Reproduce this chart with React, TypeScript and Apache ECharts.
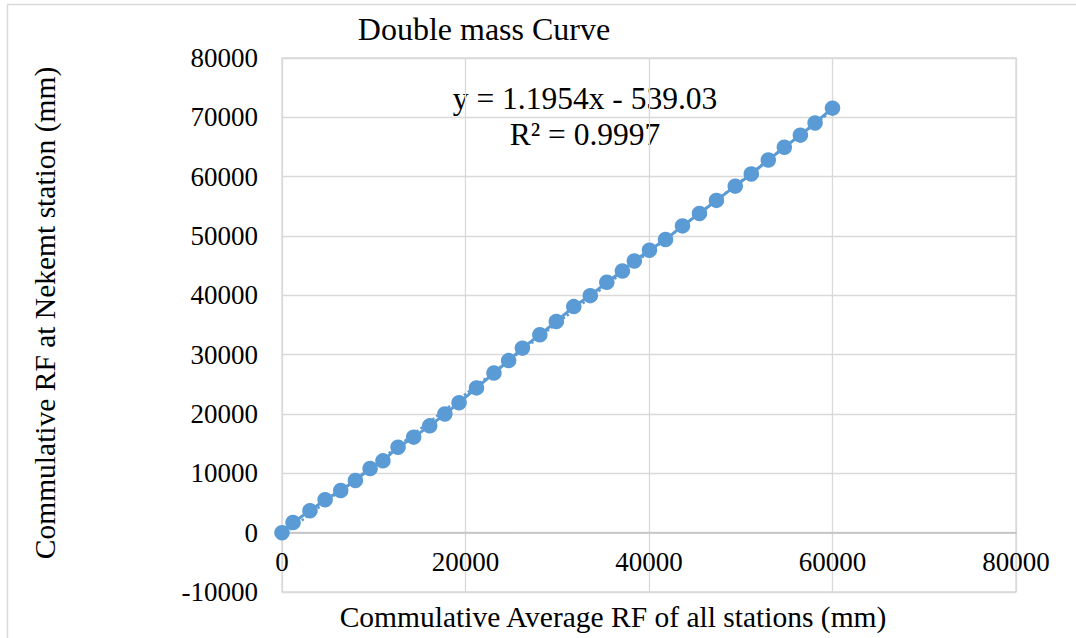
import React, { useEffect, useRef } from "react";
import * as echarts from "echarts";

// Cumulative average rainfall of all stations (mm)
const cumAvgAll: number[] = [
  0, 1200, 3050, 4700, 6400, 8000, 9600, 11000, 12650, 14350, 16100, 17750,
  19300, 21200, 23100, 24700, 26200, 28100, 29900, 31800, 33600, 35400, 37100,
  38400, 40050, 41800, 43650, 45500, 47350, 49400, 51150, 53000, 54750, 56500,
  58100, 60000,
];

// Cumulative rainfall at Nekemt station (mm)
const cumNekemt: number[] = [
  0, 1700, 3700, 5550, 7100, 8800, 10800, 12100, 14400, 16100, 18000, 20000,
  21900, 24400, 26900, 29000, 31100, 33350, 35600, 38100, 39950, 42200, 44100,
  45800, 47600, 49400, 51700, 53800, 56000, 58400, 60450, 62800, 64950, 67000,
  69050, 71550,
];

// Linear trend as reported on the chart
const trendSlope = 1.1954;
const trendIntercept = -539.03;
const trendLabel = "y = 1.1954x - 539.03";
const r2Label = "R² = 0.9997";

const titleText = "Double mass Curve";
const xTitle = "Commulative Average RF of all stations (mm)";
const yTitle = "Commulative RF at Nekemt station (mm)";

const Y_MIN = -10000;
const Y_MAX = 80000;

const FONT = "'Liberation Serif', 'Times New Roman', serif";
const BLUE = "#5B9BD5";

// plot rectangle
const GRID_LEFT = 282;
const GRID_TOP = 58;
const GRID_W = 734;
const GRID_H = 534;

export default function App() {
  const ref = useRef<HTMLDivElement>(null);

  useEffect(() => {
    if (!ref.current) return;
    const chart = echarts.init(ref.current, undefined, { renderer: "svg" });

    const points = cumAvgAll.map((x, i) => [x, cumNekemt[i]]);
    const xStart = cumAvgAll[0];
    const xEnd = cumAvgAll[cumAvgAll.length - 1];
    const trend = [
      [xStart, trendSlope * xStart + trendIntercept],
      [xEnd, trendSlope * xEnd + trendIntercept],
    ];

    // lift the horizontal axis from the bottom edge up to the y = 0 line
    const zeroOffset = -(GRID_H * (0 - Y_MIN)) / (Y_MAX - Y_MIN);

    chart.setOption({
      animation: false,
      backgroundColor: "#ffffff",
      textStyle: { fontFamily: FONT },
      grid: {
        left: GRID_LEFT,
        top: GRID_TOP,
        width: GRID_W,
        height: GRID_H,
        containLabel: false,
        outerBoundsMode: "none",
      },
      xAxis: {
        type: "value",
        min: 0,
        max: 80000,
        interval: 20000,
        offset: zeroOffset,
        axisLine: { onZero: false, lineStyle: { color: "#bfbfbf", width: 1.5 } },
        axisTick: { show: false },
        axisLabel: {
          fontFamily: FONT,
          fontSize: 27,
          color: "#000",
          margin: 16,
          formatter: (v: number) => String(v),
        },
        splitLine: { show: true, lineStyle: { color: "#d9d9d9", width: 1.3 } },
      },
      yAxis: {
        type: "value",
        min: Y_MIN,
        max: Y_MAX,
        interval: 10000,
        axisLine: { show: false },
        axisTick: { show: false },
        axisLabel: {
          fontFamily: FONT,
          fontSize: 27,
          color: "#000",
          margin: 24,
          formatter: (v: number) => String(v),
        },
        splitLine: { show: true, lineStyle: { color: "#d9d9d9", width: 1.3 } },
      },
      graphic: [
        {
          type: "rect",
          shape: { x: 7.5, y: 4.5, width: 1200, height: 800 },
          style: { fill: "none", stroke: "#d9d9d9", lineWidth: 1.5 },
          silent: true,
          z: -1,
        },
        {
          type: "rect",
          shape: { x: GRID_LEFT, y: GRID_TOP, width: GRID_W, height: GRID_H },
          style: { fill: "none", stroke: "#d9d9d9", lineWidth: 1.3 },
          silent: true,
        },
        {
          type: "text",
          x: 484,
          y: 29,
          style: {
            text: titleText,
            font: `32px ${FONT}`,
            fill: "#000",
            align: "center",
            verticalAlign: "middle",
          },
        },
        {
          type: "text",
          x: 613,
          y: 617,
          style: {
            text: xTitle,
            font: `29.5px ${FONT}`,
            fill: "#000",
            align: "center",
            verticalAlign: "middle",
          },
        },
        {
          type: "text",
          x: 45,
          y: 313,
          rotation: Math.PI / 2,
          style: {
            text: yTitle,
            font: `29.5px ${FONT}`,
            fill: "#000",
            align: "center",
            verticalAlign: "middle",
          },
        },
        {
          type: "text",
          x: 585,
          y: 98,
          style: {
            text: trendLabel,
            font: `31.5px ${FONT}`,
            fill: "#000",
            align: "center",
            verticalAlign: "middle",
          },
        },
        {
          type: "text",
          x: 585,
          y: 134,
          style: {
            text: r2Label,
            font: `31.5px ${FONT}`,
            fill: "#000",
            align: "center",
            verticalAlign: "middle",
          },
        },
      ],
      series: [
        {
          type: "line",
          data: points,
          symbol: "circle",
          symbolSize: 15.5,
          itemStyle: { color: BLUE },
          lineStyle: { color: BLUE, width: 3 },
          z: 3,
        },
        {
          type: "line",
          data: trend,
          symbol: "none",
          lineStyle: { color: BLUE, width: 2.5, type: "dotted" },
          z: 2,
        },
      ],
    });

    return () => chart.dispose();
  }, []);

  return (
    <div
      ref={ref}
      style={{ position: "fixed", left: 0, top: 0, width: 1076, height: 638 }}
    />
  );
}
